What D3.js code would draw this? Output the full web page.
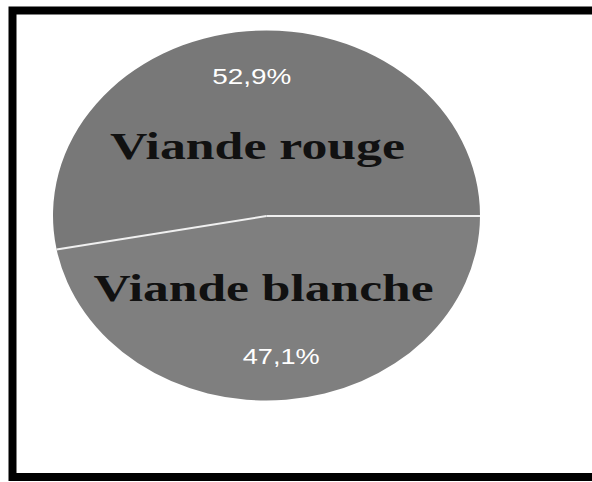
<!DOCTYPE html>
<html>
<head>
<meta charset="utf-8">
<script src="https://cdn.jsdelivr.net/npm/d3@7"></script>
<style>
  body { margin: 0; background: #fff; }
  svg { display: block; }
</style>
</head>
<body>
<svg class="chart"></svg>
<script>
// Chart values
var categories = ["Viande blanche", "Viande rouge"];
var shares = [47.1, 52.9];
var shareLabels = ["47,1%", "52,9%"];
var sliceColors = ["#7f7f7f", "#787878"];

var width = 592;
var height = 482;

// The pie is drawn on a unit circle and stretched into an ellipse
var cx = 266.5, cy = 216, rx = 213.5, ry = 185;

var svg = d3.select(".chart")
    .attr("width", width)
    .attr("height", height);

// Thick black frame (right edge runs off the picture)
svg.append("rect")
    .attr("x", 12.5)
    .attr("y", 10.5)
    .attr("width", 620)
    .attr("height", 466.5)
    .attr("fill", "none")
    .attr("stroke", "#000")
    .attr("stroke-width", 8);

// First slice starts at 3 o'clock and runs clockwise
var pie = d3.pie()
    .sort(null)
    .value(function(d) { return d; })
    .startAngle(Math.PI / 2)
    .endAngle(Math.PI / 2 + 2 * Math.PI);

var arcs = pie(shares);

var arc = d3.arc().innerRadius(0).outerRadius(1);

var pieGroup = svg.append("g")
    .attr("transform", "translate(" + cx + "," + cy + ") scale(" + rx + "," + ry + ")");

pieGroup.selectAll("path")
    .data(arcs)
    .enter().append("path")
    .attr("d", arc)
    .attr("fill", function(d, i) { return sliceColors[i]; });

// White separators between slices only, no outer outline
pieGroup.selectAll("line.sep")
    .data(arcs)
    .enter().append("line")
    .attr("class", "sep")
    .attr("x1", 0)
    .attr("y1", 0)
    .attr("x2", function(d) { return Math.sin(d.startAngle); })
    .attr("y2", function(d) { return -Math.cos(d.startAngle); })
    .attr("stroke", "#f0f0f0")
    .attr("stroke-width", 2)
    .attr("vector-effect", "non-scaling-stroke");

// Helper to map a point along a slice's middle angle to screen coords
function polar(d, r) {
    var a = (d.startAngle + d.endAngle) / 2;
    return [cx + Math.sin(a) * r * rx, cy - Math.cos(a) * r * ry];
}

// Percent labels (white, sans)
var pctLengths = [77, 79];
svg.selectAll("text.pct")
    .data(arcs)
    .enter().append("text")
    .attr("class", "pct")
    .attr("x", function(d) { return polar(d, 0.76)[0]; })
    .attr("y", function(d) { return polar(d, 0.76)[1] + 8; })
    .attr("text-anchor", "middle")
    .attr("font-family", "'Liberation Sans', Arial, sans-serif")
    .attr("font-size", 22)
    .attr("fill", "#fff")
    .attr("textLength", function(d, i) { return pctLengths[i]; })
    .attr("lengthAdjust", "spacingAndGlyphs")
    .text(function(d, i) { return shareLabels[i]; });

// Category labels (bold serif, black)
var nameLengths = [340, 295];
var nameShift = [[-3, 0.39], [-9, 0.38]];
svg.selectAll("text.name")
    .data(arcs)
    .enter().append("text")
    .attr("class", "name")
    .attr("x", function(d, i) { return cx + nameShift[i][0]; })
    .attr("y", function(d, i) { return polar(d, nameShift[i][1])[1] + 13; })
    .attr("text-anchor", "middle")
    .attr("font-family", "'Liberation Serif', 'Times New Roman', serif")
    .attr("font-weight", "bold")
    .attr("font-size", 38)
    .attr("fill", "#111")
    .attr("textLength", function(d, i) { return nameLengths[i]; })
    .attr("lengthAdjust", "spacingAndGlyphs")
    .text(function(d, i) { return categories[i]; });
</script>
</body>
</html>
